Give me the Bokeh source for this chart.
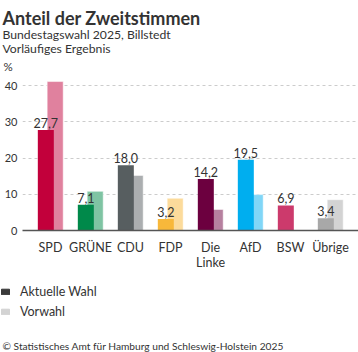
import numpy as np
from bokeh.plotting import figure
from bokeh.layouts import column
from bokeh.models import (ColumnDataSource, FixedTicker, Label, Legend, LegendItem, Range1d)
from bokeh.core.properties import value
from bokeh.embed import file_html
from bokeh.resources import INLINE

# ---- data ----
parties = ["SPD", "GRÜNE", "CDU", "FDP", "Die\nLinke", "AfD", "BSW", "Übrige"]
current = [27.7, 7.1, 18.0, 3.2, 14.2, 19.5, 6.9, 3.4]
current_labels = ["27,7", "7,1", "18,0", "3,2", "14,2", "19,5", "6,9", "3,4"]
previous = [41.1, 10.8, 15.2, 8.9, 5.8, 9.9, np.nan, 8.5]
y_ticks = [0, 10, 20, 30, 40]
legend_labels = ["Aktuelle Wahl", "Vorwahl"]

colors_current = ["#C2003B", "#00894A", "#575E60", "#F8B83A", "#6C003F", "#00AEEF", "#CC3A6C", "#A8A8A8"]
colors_previous = ["#E0819E", "#7FC4A3", "#ABAEB0", "#FCDB9B", "#B6809F", "#80D6F7", "#FFFFFF", "#D3D3D3"]
legend_colors = ["#3A3A3A", "#D3D3D3"]

FONT = "Lato"
TXT = "#333333"
W = 358
LEFT = 22


def blank(height):
    f = figure(width=W, height=height, output_backend="svg", toolbar_location=None,
               x_range=Range1d(0, W), y_range=Range1d(height, 0),
               x_axis_location=None, y_axis_location=None,
               min_border=0, min_border_left=0, min_border_right=0,
               min_border_top=0, min_border_bottom=0)
    f.grid.visible = False
    f.outline_line_color = None
    return f


def lab(f, text, x, y, size, bold=False, baseline="alphabetic"):
    f.add_layout(Label(x=x, y=y, text=text, text_font=FONT, text_font_size=size,
                       text_color=TXT, text_font_style="bold" if bold else "normal",
                       text_baseline=baseline))


# ---- header ----
H_HEAD = 72
head = blank(H_HEAD)
lab(head, "Anteil der Zweitstimmen", 2, 17.5, "18px", bold=True)
lab(head, "Bundestagswahl 2025, Billstedt", 2, 34, "12.2px")
lab(head, "Vorläufiges Ergebnis", 2, 48, "12.2px")
lab(head, "%", 3, 65.5, "11.5px", baseline="middle")

# ---- chart ----
idx = list(range(len(parties)))
off = 0.117
src_cur = ColumnDataSource(dict(x=[i - off for i in idx], top=current, color=colors_current, lab=current_labels))
src_prev = ColumnDataSource(dict(x=[i + off for i in idx], top=previous, color=colors_previous))

p = figure(width=W, height=208, output_backend="svg", toolbar_location=None,
           x_range=Range1d(-0.7, 7.7), y_range=Range1d(0, 43.6),
           min_border_left=LEFT, min_border_right=0, min_border_top=0, min_border_bottom=50)
p.outline_line_color = None

p.vbar(x="x", top="top", width=0.4, source=src_prev, fill_color="color", line_color="white", line_width=0.5)
p.vbar(x="x", top="top", width=0.4, source=src_cur, fill_color="color", line_color="color", line_width=0)
p.text(x="x", y="top", text="lab", source=src_cur, text_align="center", text_baseline="bottom",
       y_offset=-2, text_font=value(FONT), text_font_size="12.5px", text_color=TXT)

for ax in (p.xaxis, p.yaxis):
    ax.major_tick_line_color = None
    ax.minor_tick_line_color = None
    ax.major_tick_out = 0
    ax.minor_tick_out = 0
    ax.major_tick_in = 0
    ax.minor_tick_in = 0
    ax.axis_label = None
    ax.major_label_text_font = FONT
    ax.major_label_text_color = TXT

p.xaxis.ticker = FixedTicker(ticks=idx)
p.xaxis.major_label_overrides = {i: parties[i] for i in idx}
p.xaxis.axis_line_color = "#555555"
p.xaxis.axis_line_width = 1.5
p.xaxis.major_label_standoff = 9
p.xaxis.major_label_text_font_size = "12.5px"
p.xaxis.major_label_text_line_height = 1.05

p.yaxis.ticker = FixedTicker(ticks=y_ticks)
p.yaxis.axis_line_color = None
p.yaxis.major_label_standoff = 5
p.yaxis.major_label_text_font_size = "11px"

p.xgrid.grid_line_color = None
p.ygrid.ticker = FixedTicker(ticks=[10, 20, 30, 40])
p.ygrid.grid_line_color = "#CCCCCC"
p.ygrid.grid_line_dash = "3 3"
p.ygrid.grid_line_width = 1

# ---- footer ----
H_FOOT = 72
foot = blank(H_FOOT)
rs = [foot.vbar(x=[np.nan], top=[np.nan], width=1, fill_color=c, line_color=c) for c in legend_colors]
legend = Legend(items=[LegendItem(label=t, renderers=[r]) for t, r in zip(legend_labels, rs)],
                location=(0, 33), orientation="vertical",
                padding=0, margin=0, spacing=5, glyph_width=10, glyph_height=7,
                label_height=14, label_standoff=10,
                label_text_font=FONT, label_text_font_size="12.5px", label_text_color=TXT,
                border_line_color=None, background_fill_alpha=0)
foot.add_layout(legend)
lab(foot, "© Statistisches Amt für Hamburg und Schleswig-Holstein 2025", 2, 65, "10.2px")

layout = column(column(head), p, column(foot), spacing=0)
open("out.html", "w").write(file_html(layout, INLINE))
